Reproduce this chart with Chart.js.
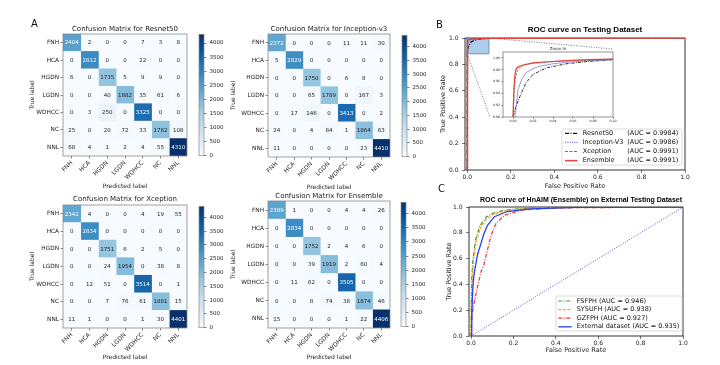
<!DOCTYPE html>
<html><head><meta charset="utf-8">
<script src="https://cdn.jsdelivr.net/npm/chart.js@4.4.1/dist/chart.umd.min.js"></script>
<style>
html,body{margin:0;padding:0;background:#fff;width:720px;height:365px;overflow:hidden;position:relative;}
canvas{position:absolute;}
.pl{position:absolute;font-family:'DejaVu Sans',sans-serif;font-size:10px;line-height:1;color:#111;}
</style></head><body>
<canvas id="m1"></canvas><canvas id="m2"></canvas><canvas id="m3"></canvas><canvas id="m4"></canvas>
<canvas id="cb1"></canvas><canvas id="cb2"></canvas><canvas id="cb3"></canvas><canvas id="cb4"></canvas>
<canvas id="rocB"></canvas><canvas id="inset"></canvas><canvas id="rocC"></canvas>
<div class="pl" style="left:31px;top:19px">A</div>
<div class="pl" style="left:436px;top:20px">B</div>
<div class="pl" style="left:438px;top:184px">C</div>
<script>
// ---------------- DATA ----------------
const classes = ['FNH','HCA','HGDN','LGDN','WDHCC','NC','NNL'];
const cmResnet50 = [
  [2404,2,0,0,7,3,8],[0,2812,0,0,22,0,0],[6,0,1735,5,9,9,0],[0,0,40,1882,35,61,6],
  [0,3,250,0,3325,0,0],[25,0,20,72,33,1782,108],[68,4,1,2,4,55,4310]];
const cmInception = [
  [2372,0,0,0,11,11,30],[5,2829,0,0,0,0,0],[0,0,1750,0,6,8,0],[0,0,65,1789,0,167,3],
  [0,17,146,0,3413,0,2],[24,0,4,84,1,1864,63],[11,0,0,0,0,23,4410]];
const cmXception = [
  [2342,4,0,0,4,19,55],[0,2834,0,0,0,0,0],[0,0,1751,6,2,5,0],[0,0,24,1954,0,38,8],
  [0,12,51,0,3514,0,1],[0,0,7,76,61,1881,15],[11,1,0,0,1,30,4401]];
const cmEnsemble = [
  [2389,1,0,0,4,4,26],[0,2834,0,0,0,0,0],[0,0,1752,2,4,6,0],[0,0,39,1919,2,60,4],
  [0,11,62,0,3505,0,0],[0,0,8,74,38,1874,46],[15,0,0,0,1,22,4406]];
const colorbarTicks = [0,500,1000,1500,2000,2500,3000,3500,4000];

const rocTicks = [0,0.2,0.4,0.6,0.8,1.0];
const insetXTicks = [0,0.02,0.04,0.06,0.08,0.10];
const insetYTicks = [0.90,0.92,0.94,0.96,0.98,1.00];

const testModels = ['Resnet50','Inception-V3','Xception','Ensemble'];
const testAuc = [0.9984,0.9986,0.9991,0.9991];
const resnetFpr = [0,0,0.003,0.007,0.013,0.020,0.033,0.053,0.075,0.100,0.200,0.500,1.0];
const resnetTpr = [0,0.900,0.918,0.935,0.958,0.972,0.983,0.990,0.994,0.997,0.999,1.0,1.0];
const inceptionFpr = [0,0.002,0.005,0.009,0.013,0.020,0.027,0.040,0.053,0.075,0.100,0.200,0.500,1.0];
const inceptionTpr = [0,0.900,0.946,0.965,0.975,0.982,0.986,0.990,0.9925,0.995,0.997,0.999,1.0,1.0];
const xceptionFpr = [0,0,0.001,0.002,0.004,0.007,0.012,0.020,0.035,0.053,0.075,0.100,0.200,0.500,1.0];
const xceptionTpr = [0,0.900,0.940,0.962,0.977,0.984,0.988,0.991,0.993,0.995,0.996,0.998,0.999,1.0,1.0];
const ensembleFpr = [0,0,0.001,0.002,0.003,0.005,0.010,0.020,0.035,0.053,0.075,0.100,0.200,0.500,1.0];
const ensembleTpr = [0,0.900,0.950,0.972,0.981,0.985,0.988,0.9915,0.9935,0.9955,0.997,0.998,0.999,1.0,1.0];
const zoomBoxX = [0,0.1];
const zoomBoxY = [0.88,1.0];
const zoomLinkLowX = [0,0.105], zoomLinkLowY = [0.88,0.40];
const zoomLinkHighX = [0.1,0.665], zoomLinkHighY = [1.0,0.917];

const extSites = ['FSFPH','SYSUFH','GZFPH','External dataset'];
const extAuc = [0.946,0.938,0.927,0.935];
const fsfphFpr = [0,0.001,0.003,0.008,0.020,0.040,0.070,0.100,0.150,0.200,0.300,0.500,1.0];
const fsfphTpr = [0,0.300,0.450,0.580,0.740,0.850,0.920,0.950,0.972,0.984,0.993,0.998,1.0];
const sysufhFpr = [0,0.002,0.006,0.012,0.025,0.045,0.070,0.100,0.150,0.200,0.300,0.500,1.0];
const sysufhTpr = [0,0.250,0.450,0.600,0.740,0.840,0.900,0.940,0.965,0.980,0.990,0.997,1.0];
const gzfphFpr = [0,0.003,0.008,0.016,0.030,0.047,0.060,0.070,0.094,0.117,0.156,0.235,0.400,1.0];
const gzfphTpr = [0,0.120,0.200,0.270,0.380,0.500,0.550,0.620,0.780,0.870,0.935,0.975,0.993,1.0];
const externalFpr = [0,0.003,0.006,0.010,0.016,0.030,0.047,0.060,0.078,0.110,0.170,0.280,0.500,1.0];
const externalTpr = [0,0.150,0.300,0.420,0.500,0.630,0.720,0.790,0.860,0.925,0.965,0.985,0.997,1.0];
const chanceFpr = [0,1];
const chanceTpr = [0,1];

// ---------------- HELPERS ----------------
Chart.defaults.font.family = "'DejaVu Sans', sans-serif";
Chart.defaults.color = '#222';
Chart.defaults.animation = false;

const BLUES = ['#f7fbff','#deebf7','#c6dbef','#9ecae1','#6baed6','#4292c6','#2171b5','#08519c','#08306b'];
function h2r(h){return [parseInt(h.slice(1,3),16),parseInt(h.slice(3,5),16),parseInt(h.slice(5,7),16)];}
function blues(t){
  t = Math.max(0, Math.min(1, t)); const p = t*8; const i = Math.min(7, Math.floor(p)); const f = p - i;
  const a = h2r(BLUES[i]), b = h2r(BLUES[i+1]);
  return 'rgb(' + a.map((v,k)=>Math.round(v + (b[k]-v)*f)).join(',') + ')';
}
function place(id, left, top, w, h){
  const c = document.getElementById(id);
  c.width = w; c.height = h;
  c.style.left = left+'px'; c.style.top = top+'px'; c.style.width = w+'px'; c.style.height = h+'px';
  return c;
}
const fixWidth = w => s => { s.width = w; };
const fixHeight = h => s => { s.height = h; };
const explicitTicks = arr => s => { s.ticks = arr.map(v => ({value: v})); };
const pts = (xs, ys) => xs.map((x,i) => ({x, y: ys[i]}));

const framePlugin = {
  id: 'frame',
  beforeDatasetsDraw(chart, a, o){
    const ca = chart.chartArea, ctx = chart.ctx;
    if (o.bg){ ctx.save(); ctx.fillStyle = o.bg; ctx.fillRect(ca.left, ca.top, ca.right-ca.left, ca.bottom-ca.top); ctx.restore(); }
    if (o.under) draw(chart, o);
  },
  afterDatasetsDraw(chart, a, o){ if (!o.under) draw(chart, o); }
};
function draw(chart, o){
  const ca = chart.chartArea, ctx = chart.ctx;
  ctx.save(); ctx.strokeStyle = o.color || '#000'; ctx.lineWidth = o.width || 0.8;
  ctx.strokeRect(ca.left, ca.top, ca.right-ca.left, ca.bottom-ca.top); ctx.restore();
}
const titlePlugin = {
  id: 'ptitle',
  afterDraw(chart, a, o){
    const ca = chart.chartArea, ctx = chart.ctx;
    ctx.save(); ctx.font = o.font; ctx.fillStyle = o.color || '#111';
    ctx.textAlign = 'center'; ctx.textBaseline = 'middle';
    const x = (o.x !== undefined) ? o.x : (ca.left + ca.right)/2;
    ctx.fillText(o.text, x, o.y); ctx.restore();
  }
};
const cellTextPlugin = {
  id: 'cellText',
  afterDatasetsDraw(chart, a, o){
    const ctx = chart.ctx; ctx.save();
    ctx.font = '5.5px "DejaVu Sans"'; ctx.textAlign = 'center'; ctx.textBaseline = 'middle';
    chart.data.datasets.forEach((d, j) => {
      chart.getDatasetMeta(j).data.forEach((el, i) => {
        const v = o.cm[i][j]; const p = el.getCenterPoint();
        ctx.fillStyle = v > o.vmax/2 ? '#ffffff' : '#222';
        ctx.fillText(String(v), p.x, p.y + 0.3);
      });
    });
    ctx.restore();
  }
};
const boxLegend = {
  id: 'boxLegend',
  afterDatasetsDraw(chart, a, o){
    const ca = chart.chartArea, ctx = chart.ctx;
    const x0 = ca.right - o.right - o.w, y0 = ca.bottom - o.bottom - o.h;
    ctx.save();
    ctx.beginPath();
    if (ctx.roundRect) ctx.roundRect(x0, y0, o.w, o.h, 1.5); else ctx.rect(x0, y0, o.w, o.h);
    ctx.fillStyle = 'rgba(255,255,255,0.85)'; ctx.fill();
    ctx.strokeStyle = '#cccccc'; ctx.lineWidth = 0.7; ctx.stroke();
    const items = chart.data.datasets.filter(d => d.legendRank !== undefined).sort((p,q) => p.legendRank - q.legendRank);
    items.forEach((d, k) => {
      const y = y0 + o.first + k*o.rowH;
      ctx.strokeStyle = d.borderColor; ctx.lineWidth = d.borderWidth; ctx.setLineDash(d.borderDash || []);
      ctx.beginPath(); ctx.moveTo(x0 + o.s0, y); ctx.lineTo(x0 + o.s1, y); ctx.stroke();
      ctx.setLineDash([]);
      ctx.fillStyle = '#111'; ctx.font = o.font; ctx.textBaseline = 'middle'; ctx.textAlign = 'left';
      const aucTxt = '(AUC = ' + d.auc.toFixed(o.digits) + ')';
      if (o.split){
        ctx.fillText(d.label, x0 + o.tx, y);
        ctx.textAlign = 'right'; ctx.fillText(aucTxt, x0 + o.w - o.ar, y);
      } else {
        ctx.fillText(d.label + ' ' + aucTxt, x0 + o.tx, y);
      }
    });
    ctx.restore();
  }
};
const base = { responsive: false, animation: false, events: [], devicePixelRatio: 1 };
const noLegend = { legend: {display: false}, tooltip: {enabled: false} };

// ---------------- CONFUSION MATRICES ----------------
function matrixChart(id, g, title, cm){
  const vmax = Math.max(...cm.flat());
  const cv = place(id, g.left, g.top, g.right - g.left, g.bottom - g.top);
  const datasets = classes.map((c, j) => ({
    label: c,
    data: classes.map(() => [j, j+1]),
    backgroundColor: ctx => blues(cm[ctx.dataIndex][j] / vmax),
    borderWidth: 0, barPercentage: 1, categoryPercentage: 1, grouped: false
  }));
  return new Chart(cv, {
    type: 'bar',
    data: { labels: classes, datasets },
    options: Object.assign({}, base, {
      indexAxis: 'y',
      layout: { padding: { left: 0, top: g.T - g.top, right: g.right - g.R, bottom: 0 } },
      scales: {
        x: { type: 'linear', min: 0, max: 7,
             afterBuildTicks: explicitTicks(classes.map((c,i) => i + 0.5)),
             afterFit: fixHeight(g.bottom - g.B),
             ticks: { autoSkip: false, minRotation: 45, maxRotation: 45, padding: 1, font: {size: 6}, color: '#222',
                      callback: (v, i) => classes[i] },
             grid: { display: true, drawOnChartArea: false, drawTicks: true, tickLength: 2.5, color: '#333', lineWidth: 0.6 },
             border: { display: false },
             title: { display: true, text: 'Predicted label', font: {size: 6}, color: '#222', padding: {top: 0, bottom: 2.4} } },
        y: { afterFit: fixWidth(g.L - g.left),
             ticks: { padding: 1.5, font: {size: 5.8}, color: '#222' },
             grid: { display: true, offset: false, drawOnChartArea: false, drawTicks: true, tickLength: 2.5, color: '#333', lineWidth: 0.6 },
             border: { display: false },
             title: { display: true, text: 'True label', font: {size: 6}, color: '#222', padding: {top: 3.4, bottom: 0} } }
      },
      plugins: Object.assign({}, noLegend, {
        frame: { color: '#8a8a8a', width: 0.8, under: false },
        ptitle: { text: title, y: g.titleY - g.top, font: '7px "DejaVu Sans"', color: '#222' },
        cellText: { cm, vmax }
      })
    }),
    plugins: [framePlugin, titlePlugin, cellTextPlugin]
  });
}
function colorbarChart(id, g, vmax){
  const W = 2 + 5 + 26, H = (g.y1 - g.y0) + 12;
  const cv = place(id, g.x0 - 2, g.y0 - 6, W, H);
  return new Chart(cv, {
    type: 'bar',
    data: { labels: [''], datasets: [{ data: [[0, vmax]], borderWidth: 0, barPercentage: 1, categoryPercentage: 1,
      backgroundColor: ctx => {
        const ch = ctx.chart; if (!ch.chartArea) return BLUES[4];
        const y = ch.scales.y;
        const gr = ch.ctx.createLinearGradient(0, y.getPixelForValue(0), 0, y.getPixelForValue(vmax));
        BLUES.forEach((c, k) => gr.addColorStop(k/8, c));
        return gr;
      } }] },
    options: Object.assign({}, base, {
      layout: { padding: { left: 2, top: 6, bottom: 6, right: 0 } },
      scales: {
        x: { display: false },
        y: { position: 'right', min: 0, max: vmax, afterFit: fixWidth(26),
             afterBuildTicks: explicitTicks(colorbarTicks),
             ticks: { autoSkip: false, padding: 3, font: {size: 5.5}, color: '#222', callback: v => String(v) },
             grid: { drawOnChartArea: false, drawTicks: true, tickLength: 2.5, color: '#333', lineWidth: 0.6 },
             border: { display: false } }
      },
      plugins: Object.assign({}, noLegend, { frame: { color: '#8a8a8a', width: 0.7, under: false } })
    }),
    plugins: [framePlugin]
  });
}

const G1 = {left:25, top:21, right:192, bottom:192, L:63, T:34, R:187, B:156, titleY:29};
const G2 = {left:226, top:21, right:395, bottom:193, L:268, T:34, R:390, B:157, titleY:29};
const G3 = {left:25, top:191, right:192, bottom:363, L:63, T:205, R:187, B:328, titleY:199};
const G4 = {left:226, top:188, right:395, bottom:363, L:268, T:201, R:390, B:328, titleY:196};
matrixChart('m1', G1, 'Confusion Matrix for Resnet50', cmResnet50);
matrixChart('m2', G2, 'Confusion Matrix for Inception-v3', cmInception);
matrixChart('m3', G3, 'Confusion Matrix for Xception', cmXception);
matrixChart('m4', G4, 'Confusion Matrix for Ensemble', cmEnsemble);
colorbarChart('cb1', {x0:199, y0:34, y1:156}, Math.max(...cmResnet50.flat()));
colorbarChart('cb2', {x0:402, y0:35, y1:157}, Math.max(...cmInception.flat()));
colorbarChart('cb3', {x0:199, y0:206, y1:328}, Math.max(...cmXception.flat()));
colorbarChart('cb4', {x0:401, y0:202, y1:327}, Math.max(...cmEnsemble.flat()));

// ---------------- ROC CURVES ----------------
function curve(label, xs, ys, color, dash, width, extra){
  return Object.assign({ label, data: pts(xs, ys), borderColor: color, backgroundColor: color, borderWidth: width,
    borderDash: dash, pointRadius: 0, fill: false, tension: 0 }, extra || {});
}
function rocScales(o){
  return {
    x: { type: 'linear', min: o.xmin, max: o.xmax, afterBuildTicks: explicitTicks(o.xt), afterFit: fixHeight(o.xh),
         ticks: { autoSkip: false, maxRotation: 0, padding: o.tp, font: {size: o.fs}, color: '#222', callback: v => v.toFixed(o.dec) },
         grid: { drawOnChartArea: false, drawTicks: true, tickLength: o.tl, color: '#222', lineWidth: 0.6 },
         border: { display: false },
         title: { display: !!o.xtitle, text: o.xtitle, font: {size: 6.5}, color: '#222', padding: {top: 0, bottom: 2.1} } },
    y: { type: 'linear', min: o.ymin, max: o.ymax, afterBuildTicks: explicitTicks(o.yt), afterFit: fixWidth(o.yw),
         ticks: { autoSkip: false, padding: o.tpy, font: {size: o.fs}, color: '#222', callback: v => v.toFixed(o.dec) },
         grid: { drawOnChartArea: false, drawTicks: true, tickLength: o.tl, color: '#222', lineWidth: 0.6 },
         border: { display: false },
         title: { display: !!o.ytitle, text: o.ytitle, font: {size: 6.5}, color: '#222', padding: {top: o.ytp, bottom: 0} } }
  };
}
const styleResnet = ['#111111', [4,1.5,1,1.5]];
const styleIncep = ['#6c6cd8', [1,1.3]];
const styleXcep = ['#4d8f4d', [3,1.5]];
const styleEns = ['#e8413c', []];

// Panel B main
new Chart(place('rocB', 436, 15, 284, 177), {
  type: 'line',
  data: { datasets: [
    curve(testModels[3], ensembleFpr, ensembleTpr, styleEns[0], styleEns[1], 1.5, {legendRank: 3, auc: testAuc[3]}),
    curve(testModels[2], xceptionFpr, xceptionTpr, styleXcep[0], styleXcep[1], 1.2, {legendRank: 2, auc: testAuc[2]}),
    curve(testModels[1], inceptionFpr, inceptionTpr, styleIncep[0], styleIncep[1], 1.2, {legendRank: 1, auc: testAuc[1]}),
    curve(testModels[0], resnetFpr, resnetTpr, styleResnet[0], styleResnet[1], 1.2, {legendRank: 0, auc: testAuc[0]}),
    curve('link1', zoomLinkLowX, zoomLinkLowY, '#555', [1,1.5], 0.8),
    curve('link2', zoomLinkHighX, zoomLinkHighY, '#555', [1,1.5], 0.8),
    curve('boxEdge', [zoomBoxX[0],zoomBoxX[1],zoomBoxX[1],zoomBoxX[0],zoomBoxX[0]], [zoomBoxY[0],zoomBoxY[0],zoomBoxY[1],zoomBoxY[1],zoomBoxY[0]], '#5b7fb0', [], 0.8),
    curve('boxFill', zoomBoxX, [zoomBoxY[1], zoomBoxY[1]], 'rgba(0,0,0,0)', [], 0, {fill: {value: zoomBoxY[0]}, backgroundColor: 'rgba(120,170,222,0.6)'})
  ]},
  options: Object.assign({}, base, {
    layout: { padding: { left: 0, top: 23, right: 35, bottom: 0 } },
    scales: rocScales({xmin: -0.01, xmax: 1.0, ymin: 0, ymax: 1.0, xt: rocTicks, yt: rocTicks, xh: 22, yw: 29, tp: 1, tpy: 3.5, fs: 6, tl: 3, dec: 1,
      xtitle: 'False Positive Rate', ytitle: 'True Positive Rate', ytp: 3.1}),
    plugins: Object.assign({}, noLegend, {
      frame: { color: '#000', width: 0.8, under: true },
      ptitle: { text: 'ROC curve on Testing Dataset', x: 149, y: 15, font: 'bold 8px "Liberation Sans", Arial, sans-serif', color: '#000' },
      boxLegend: { w: 120, h: 36, right: 3, bottom: 5, first: 4.3, rowH: 9.1, s0: 3, s1: 15.5, tx: 20.7, ar: 3.7, split: true, digits: 4, font: '6.5px "DejaVu Sans"' }
    })
  }),
  plugins: [framePlugin, titlePlugin, boxLegend]
});

// Inset
new Chart(place('inset', 488, 43, 130, 83), {
  type: 'line',
  data: { datasets: [
    curve(testModels[3], ensembleFpr, ensembleTpr, styleEns[0], [], 1.2),
    curve(testModels[2], xceptionFpr, xceptionTpr, styleXcep[0], [2.5,1.2], 0.9),
    curve(testModels[1], inceptionFpr, inceptionTpr, styleIncep[0], [], 0.7),
    curve(testModels[0], resnetFpr, resnetTpr, styleResnet[0], [3,1.2,0.8,1.2], 0.9)
  ]},
  options: Object.assign({}, base, {
    layout: { padding: { left: 0, top: 9, right: 5, bottom: 0 } },
    scales: rocScales({xmin: -0.01, xmax: 0.10, ymin: 0.90, ymax: 1.01, xt: insetXTicks, yt: insetYTicks, xh: 9, yw: 15, tp: 1, tpy: 1.5, fs: 3.2, tl: 1.5, dec: 2}),
    plugins: Object.assign({}, noLegend, {
      frame: { color: '#666', width: 0.7, under: false, bg: '#ffffff' },
      ptitle: { text: 'Zoom In', y: 5.5, font: '4px "DejaVu Sans"', color: '#222' }
    })
  }),
  plugins: [framePlugin, titlePlugin]
});

// Panel C
new Chart(place('rocC', 440, 193, 280, 163), {
  type: 'line',
  data: { datasets: [
    curve(extSites[3], externalFpr, externalTpr, '#2340f0', [], 1.3, {legendRank: 3, auc: extAuc[3]}),
    curve(extSites[2], gzfphFpr, gzfphTpr, '#e23a3a', [4,1.5,1,1.5], 1.2, {legendRank: 2, auc: extAuc[2]}),
    curve(extSites[1], sysufhFpr, sysufhTpr, '#ffa020', [3,1.5], 1.2, {legendRank: 1, auc: extAuc[1]}),
    curve(extSites[0], fsfphFpr, fsfphTpr, '#3a9a3a', [4,1.5,1,1.5], 1.2, {legendRank: 0, auc: extAuc[0]}),
    curve('chance', chanceFpr, chanceTpr, '#4848c8', [1,1.5], 0.9)
  ]},
  options: Object.assign({}, base, {
    layout: { padding: { left: 0, top: 14, right: 37, bottom: 0 } },
    scales: rocScales({xmin: -0.01, xmax: 1.0, ymin: 0, ymax: 1.0, xt: rocTicks, yt: rocTicks, xh: 20, yw: 29, tp: 1, tpy: 3.5, fs: 6, tl: 3, dec: 1,
      xtitle: 'False Positive Rate', ytitle: 'True Positive Rate', ytp: 5.1}),
    plugins: Object.assign({}, noLegend, {
      frame: { color: '#000', width: 0.8, under: true },
      ptitle: { text: 'ROC curve of HnAIM (Ensemble) on External Testing Dataset', x: 141, y: 7.5, font: 'bold 7px "Liberation Sans", Arial, sans-serif', color: '#000' },
      boxLegend: { w: 126, h: 35, right: 1, bottom: 5, first: 5, rowH: 8.6, s0: 2.3, s1: 15.7, tx: 20.7, ar: 0, split: false, digits: 3, font: '6.5px "DejaVu Sans"' }
    })
  }),
  plugins: [framePlugin, titlePlugin, boxLegend]
});
</script>
</body></html>
